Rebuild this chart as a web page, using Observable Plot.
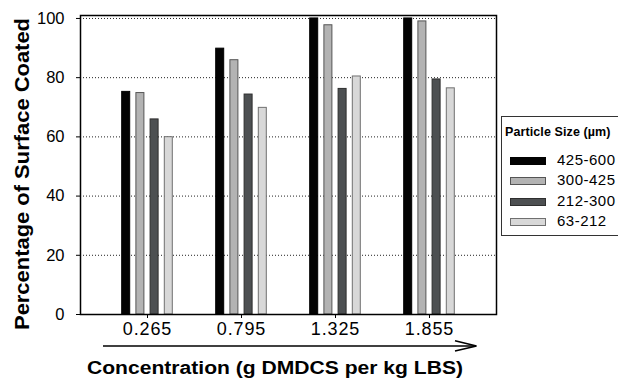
<!DOCTYPE html>
<html>
<head>
<meta charset="utf-8">
<script src="https://cdn.jsdelivr.net/npm/d3@7"></script>
<script src="https://cdn.jsdelivr.net/npm/@observablehq/plot@0.6"></script>
<style>
  html, body { margin: 0; padding: 0; background: #fff; }
  #wrap { position: relative; width: 618px; height: 378px; overflow: hidden; font-family: "Liberation Sans", Arial, sans-serif; }
  #wrap svg.plot { position: absolute; left: 0; top: 0; }
  g[aria-label="x-axis tick label"] text { letter-spacing: 0.9px; }
  #overlay { position: absolute; left: 0; top: 0; pointer-events: none; }
  #legend { position: absolute; left: 501px; top: 116px; width: 160px; height: 118px; border: 1px solid #333; background: #fff; }
  #legend .title { position: absolute; left: 3px; top: 8px; font-weight: bold; font-size: 12.5px; letter-spacing: 0.1px; white-space: nowrap; color: #000; }
  #legend .item { position: absolute; left: 8px; height: 16px; white-space: nowrap; font-size: 15px; letter-spacing: 0.5px; color: #000; }
  #legend .sw { position: absolute; left: 0; top: 5px; width: 34px; height: 6px; box-sizing: content-box; }
  #legend .lab { position: absolute; left: 47px; top: -1px; }
</style>
</head>
<body>
<div id="wrap"></div>
<script>
// ---- data ----
const concentrations = ["0.265", "0.795", "1.325", "1.855"];
const particleSizes = ["425-600", "300-425", "212-300", "63-212"];
const size425_600 = [75.2, 89.8, 100, 100];
const size300_425 = [74.8, 85.9, 97.7, 99.0];
const size212_300 = [65.9, 74.3, 76.2, 79.4];
const size63_212 = [59.9, 69.8, 80.4, 76.4];
const yTicks = [0, 20, 40, 60, 80, 100];
const legendTitle = "Particle Size (\u00b5m)";
const xTitle = "Concentration (g DMDCS per kg LBS)";
const yTitle = "Percentage of Surface Coated";

// ---- styles ----
const fills = ["#030303", "#b3b3b3", "#4d5052", "#d8d8d8"];
const strokes = ["#000000", "#555555", "#2e2e2e", "#707070"];

const seriesValues = [size425_600, size300_425, size212_300, size63_212];
const rows = [];
particleSizes.forEach((s, i) => {
  concentrations.forEach((c, j) => rows.push({size: s, conc: c, value: seriesValues[i][j]}));
});

const stride = 14.2;
const barMarks = particleSizes.map((s, i) =>
  Plot.barY(rows.filter(d => d.size === s), {
    x: "conc", y: "value",
    fill: fills[i], stroke: strokes[i], strokeWidth: 1,
    dx: (i - 1.5) * stride
  })
);

const chart = Plot.plot({
  width: 618,
  height: 378,
  marginLeft: 80,
  marginRight: 122,
  marginTop: 15,
  marginBottom: 64,
  style: {fontFamily: "'Liberation Sans', Arial, sans-serif", color: "#000", background: "transparent"},
  x: {type: "band", domain: concentrations, paddingInner: 0.915, paddingOuter: 0.6585, axis: null},
  y: {domain: [0, 101], axis: null},
  marks: [
    Plot.gridY({ticks: yTicks.filter(t => t > 0), stroke: "#222", strokeOpacity: 1, strokeDasharray: "1,2"}),
    ...barMarks,
    Plot.frame({stroke: "#000", strokeWidth: 1.5}),
    Plot.axisY({ticks: yTicks, tickSize: 4, tickPadding: 12, fontSize: 16.5, label: null, stroke: "#000"}),
    Plot.axisX({tickSize: 4, tickPadding: 4, fontSize: 18, label: null, stroke: "#000"})
  ]
});
chart.classList.add("plot");
const wrap = document.getElementById("wrap");
wrap.appendChild(chart);

// ---- overlay: axis titles and arrow ----
const ns = "http://www.w3.org/2000/svg";
const ov = document.createElementNS(ns, "svg");
ov.setAttribute("id", "overlay");
ov.setAttribute("width", 618);
ov.setAttribute("height", 378);
ov.innerHTML = `
  <text x="275" y="374" text-anchor="middle" font-family="Liberation Sans, Arial, sans-serif" font-weight="bold" font-size="18" textLength="376" lengthAdjust="spacingAndGlyphs">${xTitle}</text>
  <text transform="translate(29,174) rotate(-90)" text-anchor="middle" font-family="Liberation Sans, Arial, sans-serif" font-weight="bold" font-size="21" textLength="312" lengthAdjust="spacingAndGlyphs">${yTitle}</text>
  <line x1="103" y1="346" x2="476" y2="346" stroke="#000" stroke-width="1.6"/>
  <polyline points="455,340.7 476.5,346 455,351" fill="none" stroke="#000" stroke-width="1.6"/>
`;
wrap.appendChild(ov);

// ---- legend ----
const lg = document.createElement("div");
lg.id = "legend";
lg.innerHTML = `<div class="title">${legendTitle}</div>` +
  particleSizes.map((s, i) =>
    `<div class="item" style="top:${35 + i * 20.3}px"><div class="sw" style="background:${fills[i]};border:1px solid ${strokes[i]}"></div><div class="lab">${s}</div></div>`
  ).join("");
wrap.appendChild(lg);
</script>
</body>
</html>
